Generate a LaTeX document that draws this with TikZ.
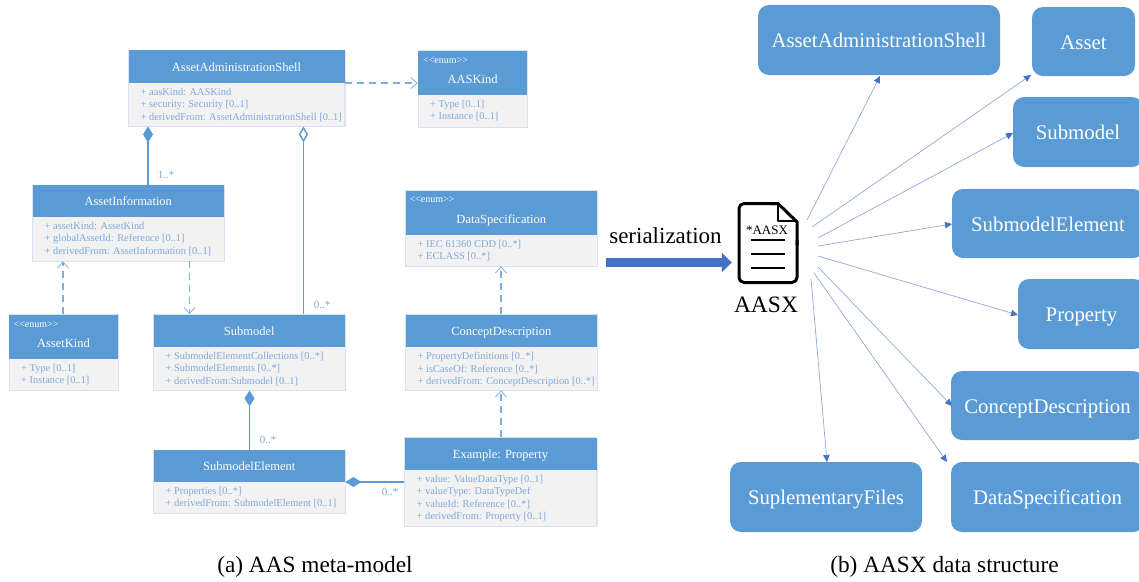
\documentclass[tikz,border=0pt]{standalone}
\usepackage{fontspec}
\setmainfont{Liberation Serif}
\usetikzlibrary{arrows.meta,shadows,calc}
\definecolor{hdr}{HTML}{5B9BD5}
\definecolor{bodyfill}{HTML}{F2F2F2}
\definecolor{edgeblue}{HTML}{D9E3EF}
\definecolor{txtblue}{HTML}{7FA9D9}
\definecolor{rayblue}{HTML}{8EA9DB}
\definecolor{bigarrow}{HTML}{4472C4}
\tikzset{
  umlbody/.style={draw=edgeblue,fill=bodyfill,line width=0.8pt,inner sep=0pt,
    general shadow={shadow xshift=1pt,shadow yshift=-1.2pt,fill=black!10}},
  umltitle/.style={text=white,font=\fontsize{12.5}{14}\selectfont,inner sep=0pt,text height=9pt,text depth=0pt},
  umltext/.style={text=txtblue,font=\fontsize{10.4}{12.5}\selectfont,align=left,inner sep=0pt,anchor=north west},
  enumtag/.style={text=white,font=\fontsize{10}{11}\selectfont,inner sep=0pt,anchor=west},
  mult/.style={text=txtblue,font=\fontsize{11}{12}\selectfont,inner sep=0pt},
  solidrel/.style={draw=hdr,line width=1.4pt},
  dashrel/.style={draw=hdr!80,line width=1.4pt,dash pattern=on 7pt off 5pt,-{Straight Barb[length=6pt,width=11pt,line width=0.8pt]}},
  comp/.style={solidrel,{Diamond[length=16pt,width=10pt,fill=hdr]}-},
  aggr/.style={solidrel,{Diamond[open,length=16pt,width=9pt,fill=white]}-},
  item/.style={fill=hdr,rounded corners=11pt,text=white,inner sep=0pt,font=\fontsize{20.8}{24}\selectfont,text height=15.5pt,text depth=0pt},
  ray/.style={draw=rayblue,line width=0.7pt,-{Triangle[length=7pt,width=6.5pt,color=bigarrow]}},
  caption/.style={font=\fontsize{23.3}{26}\selectfont,inner sep=0pt},
  doctext/.style={inner sep=0pt}
}
\newcommand\umlbox[8]{%
  \node[umlbody,minimum width={(#5-#3)*1pt},minimum height={(#6-#4)*1pt}] (#1) at ({(#3+#5)/2},{(#4+#6)/2}) {};
  \fill[hdr] (#3,#4) rectangle (#5,#7);
  \node[umltitle] (#1t) at ({(#3+#5)/2},{#7-16.5}) {#2};
  \node[umltext] (#1b) at ({#3+12},{#7+5}) {#8};
}
\newcommand\itembox[6]{%
  \node[item,minimum width={(#5-#3)*1pt},minimum height={(#6-#4)*1pt}] (#1) at ({(#3+#5)/2},{(#4+#6)/2}) {#2};
}
\begin{document}
\begin{tikzpicture}[x=1pt,y=-1pt]
\useasboundingbox (0,0) rectangle (1139,581);
% UML boxes
\umlbox{aas}{AssetAdministrationShell}{128.5}{50}{344.5}{126}{83}{+ aasKind: AASKind\\+ security: Security [0..1]\\+ derivedFrom: AssetAdministrationShell [0..1]}
\umlbox{aaskind}{AASKind}{418}{50.5}{527}{127}{95}{+ Type [0..1]\\+ Instance [0..1]}
\node[enumtag] (enum1) at (423,60.5) {<{}<enum>{}>};
\umlbox{ai}{AssetInformation}{32.5}{185}{224}{261}{217}{+ assetKind: AssetKind\\+ globalAssetId: Reference [0..1]\\+ derivedFrom: AssetInformation [0..1]}
\umlbox{ak}{AssetKind}{9}{314.5}{118}{390}{359}{+ Type [0..1]\\+ Instance [0..1]}
\node[enumtag] (enum2) at (13.5,324.5) {<{}<enum>{}>};
\umlbox{sm}{Submodel}{153.5}{314.5}{345}{390}{347}{+ SubmodelElementCollections [0..*]\\+ SubmodelElements [0..*]\\+ derivedFrom:Submodel [0..1]}
\umlbox{sme}{SubmodelElement}{153.5}{450}{345}{513}{482}{+ Properties [0..*]\\+ derivedFrom: SubmodelElement [0..1]}
\umlbox{ds}{DataSpecification}{405.5}{190.5}{597}{266}{235}{+ IEC 61360 CDD [0..*]\\+ ECLASS [0..*]}
\node[enumtag] (enum3) at (409.5,200) {<{}<enum>{}>};
\umlbox{cd}{ConceptDescription}{405.5}{314.5}{597}{390}{347}{+ PropertyDefinitions [0..*]\\+ isCaseOf: Reference [0..*]\\+ derivedFrom: ConceptDescription [0..*]}
\umlbox{ex}{Example: Property}{404.5}{437.5}{596.5}{526}{470}{+ value: ValueDataType [0..1]\\+ valueType: DataTypeDef\\+ valueId: Reference [0..*]\\+ derivedFrom: Property [0..1]}
% helper columns for connectors
\coordinate (c1) at (148,0);
\coordinate (c2) at (303.5,0);
\coordinate (c3) at (63,0);
\coordinate (c4) at (189.5,0);
\coordinate (c5) at (249.5,0);
\coordinate (c6) at (501,0);
\coordinate (r1) at (0,83);
\coordinate (r2) at (0,482);
% UML connectors
\draw[dashrel] (aas.east |- r1) -- (aaskind.west |- r1);
\draw[comp] (aas.south -| c1) -- (ai.north -| c1);
\draw[aggr] (aas.south -| c2) -- (sm.north -| c2);
\draw[dashrel] (ak.north -| c3) -- (ai.south -| c3);
\draw[dashrel] (ai.south -| c4) -- (sm.north -| c4);
\draw[comp] (sm.south -| c5) -- (sme.north -| c5);
\draw[comp] (sme.east |- r2) -- (ex.west |- r2);
\draw[dashrel] (ex.north -| c6) -- (cd.south -| c6);
\draw[dashrel] (cd.north -| c6) -- (ds.south -| c6);
\node[mult] (m1) at (166,175) {1..*};
\node[mult] (m2) at (322,304.5) {0..*};
\node[mult] (m3) at (268,439.5) {0..*};
\node[mult] (m4) at (390,491.5) {0..*};
% Right-hand boxes
\itembox{rAAS}{AssetAdministrationShell}{758}{5}{1000}{75}
\itembox{rAsset}{Asset}{1032}{7}{1135}{76}
\itembox{rSub}{Submodel}{1013}{97}{1143}{167}
\itembox{rSME}{SubmodelElement}{952}{189}{1144}{258}
\itembox{rProp}{Property}{1018}{279}{1145}{349}
\itembox{rCD}{ConceptDescription}{951}{371}{1144}{440}
\itembox{rSF}{SuplementaryFiles}{730}{462}{922}{532}
\itembox{rDS}{DataSpecification}{951}{462}{1144}{532}
% AASX document icon
\node[minimum width=59pt,minimum height=80pt,inner sep=0pt] (doc) at (767.5,243) {};
\draw[line width=3pt,line join=round,rounded corners=5pt] (778,203.5) -- (739,203.5) -- (739,282.5) -- (797,282.5) -- (797,240);
\draw[line width=3pt,line join=round] (797,245) -- (797,222) -- (778,203.5) -- (770,203.5);
\draw[line width=2.6pt,line join=round] (778,203.5) -- (778,221) -- (797,221);
\foreach \yy in {240,254,268} \draw[line width=2.6pt] (751,\yy) -- (785,\yy);
\node[doctext,font=\fontsize{13}{14}\selectfont] (doclabel) at (767,230.5) {*AASX};
\node[doctext,font=\fontsize{23.5}{26}\selectfont] (aasx) at (766,305) {AASX};
% Serialization arrow
\node[doctext,font=\fontsize{23}{26}\selectfont] (ser) at (665.5,236) {serialization};
\coordinate (serstart) at (606,262.5);
\draw[bigarrow,line width=9pt,shorten >=6pt,-{Triangle[length=10pt,width=19pt]}] (serstart) -- (doc.west |- serstart);
% Rays
\coordinate (s1) at (807,220); \coordinate (t1) at (880,76);
\coordinate (s2) at (812,227); \coordinate (t2) at (1031,75);
\coordinate (s3) at (818,238); \coordinate (t3) at (1013,133);
\coordinate (s4) at (818,246); \coordinate (t4) at (952,224);
\coordinate (s5) at (818,256); \coordinate (t5) at (1018,315);
\coordinate (s6) at (818,267); \coordinate (t6) at (952,406);
\coordinate (s7) at (814,273); \coordinate (t7) at (947,462);
\coordinate (s8) at (811,279); \coordinate (t8) at (827,462);
\foreach \i in {1,...,8} \draw[ray] (s\i) -- (t\i);
% Captions
\node[caption] (capa) at (315,566.5) {(a) AAS meta-model};
\node[caption] (capb) at (944.5,566.5) {(b) AASX data structure};
\end{tikzpicture}
\end{document}
